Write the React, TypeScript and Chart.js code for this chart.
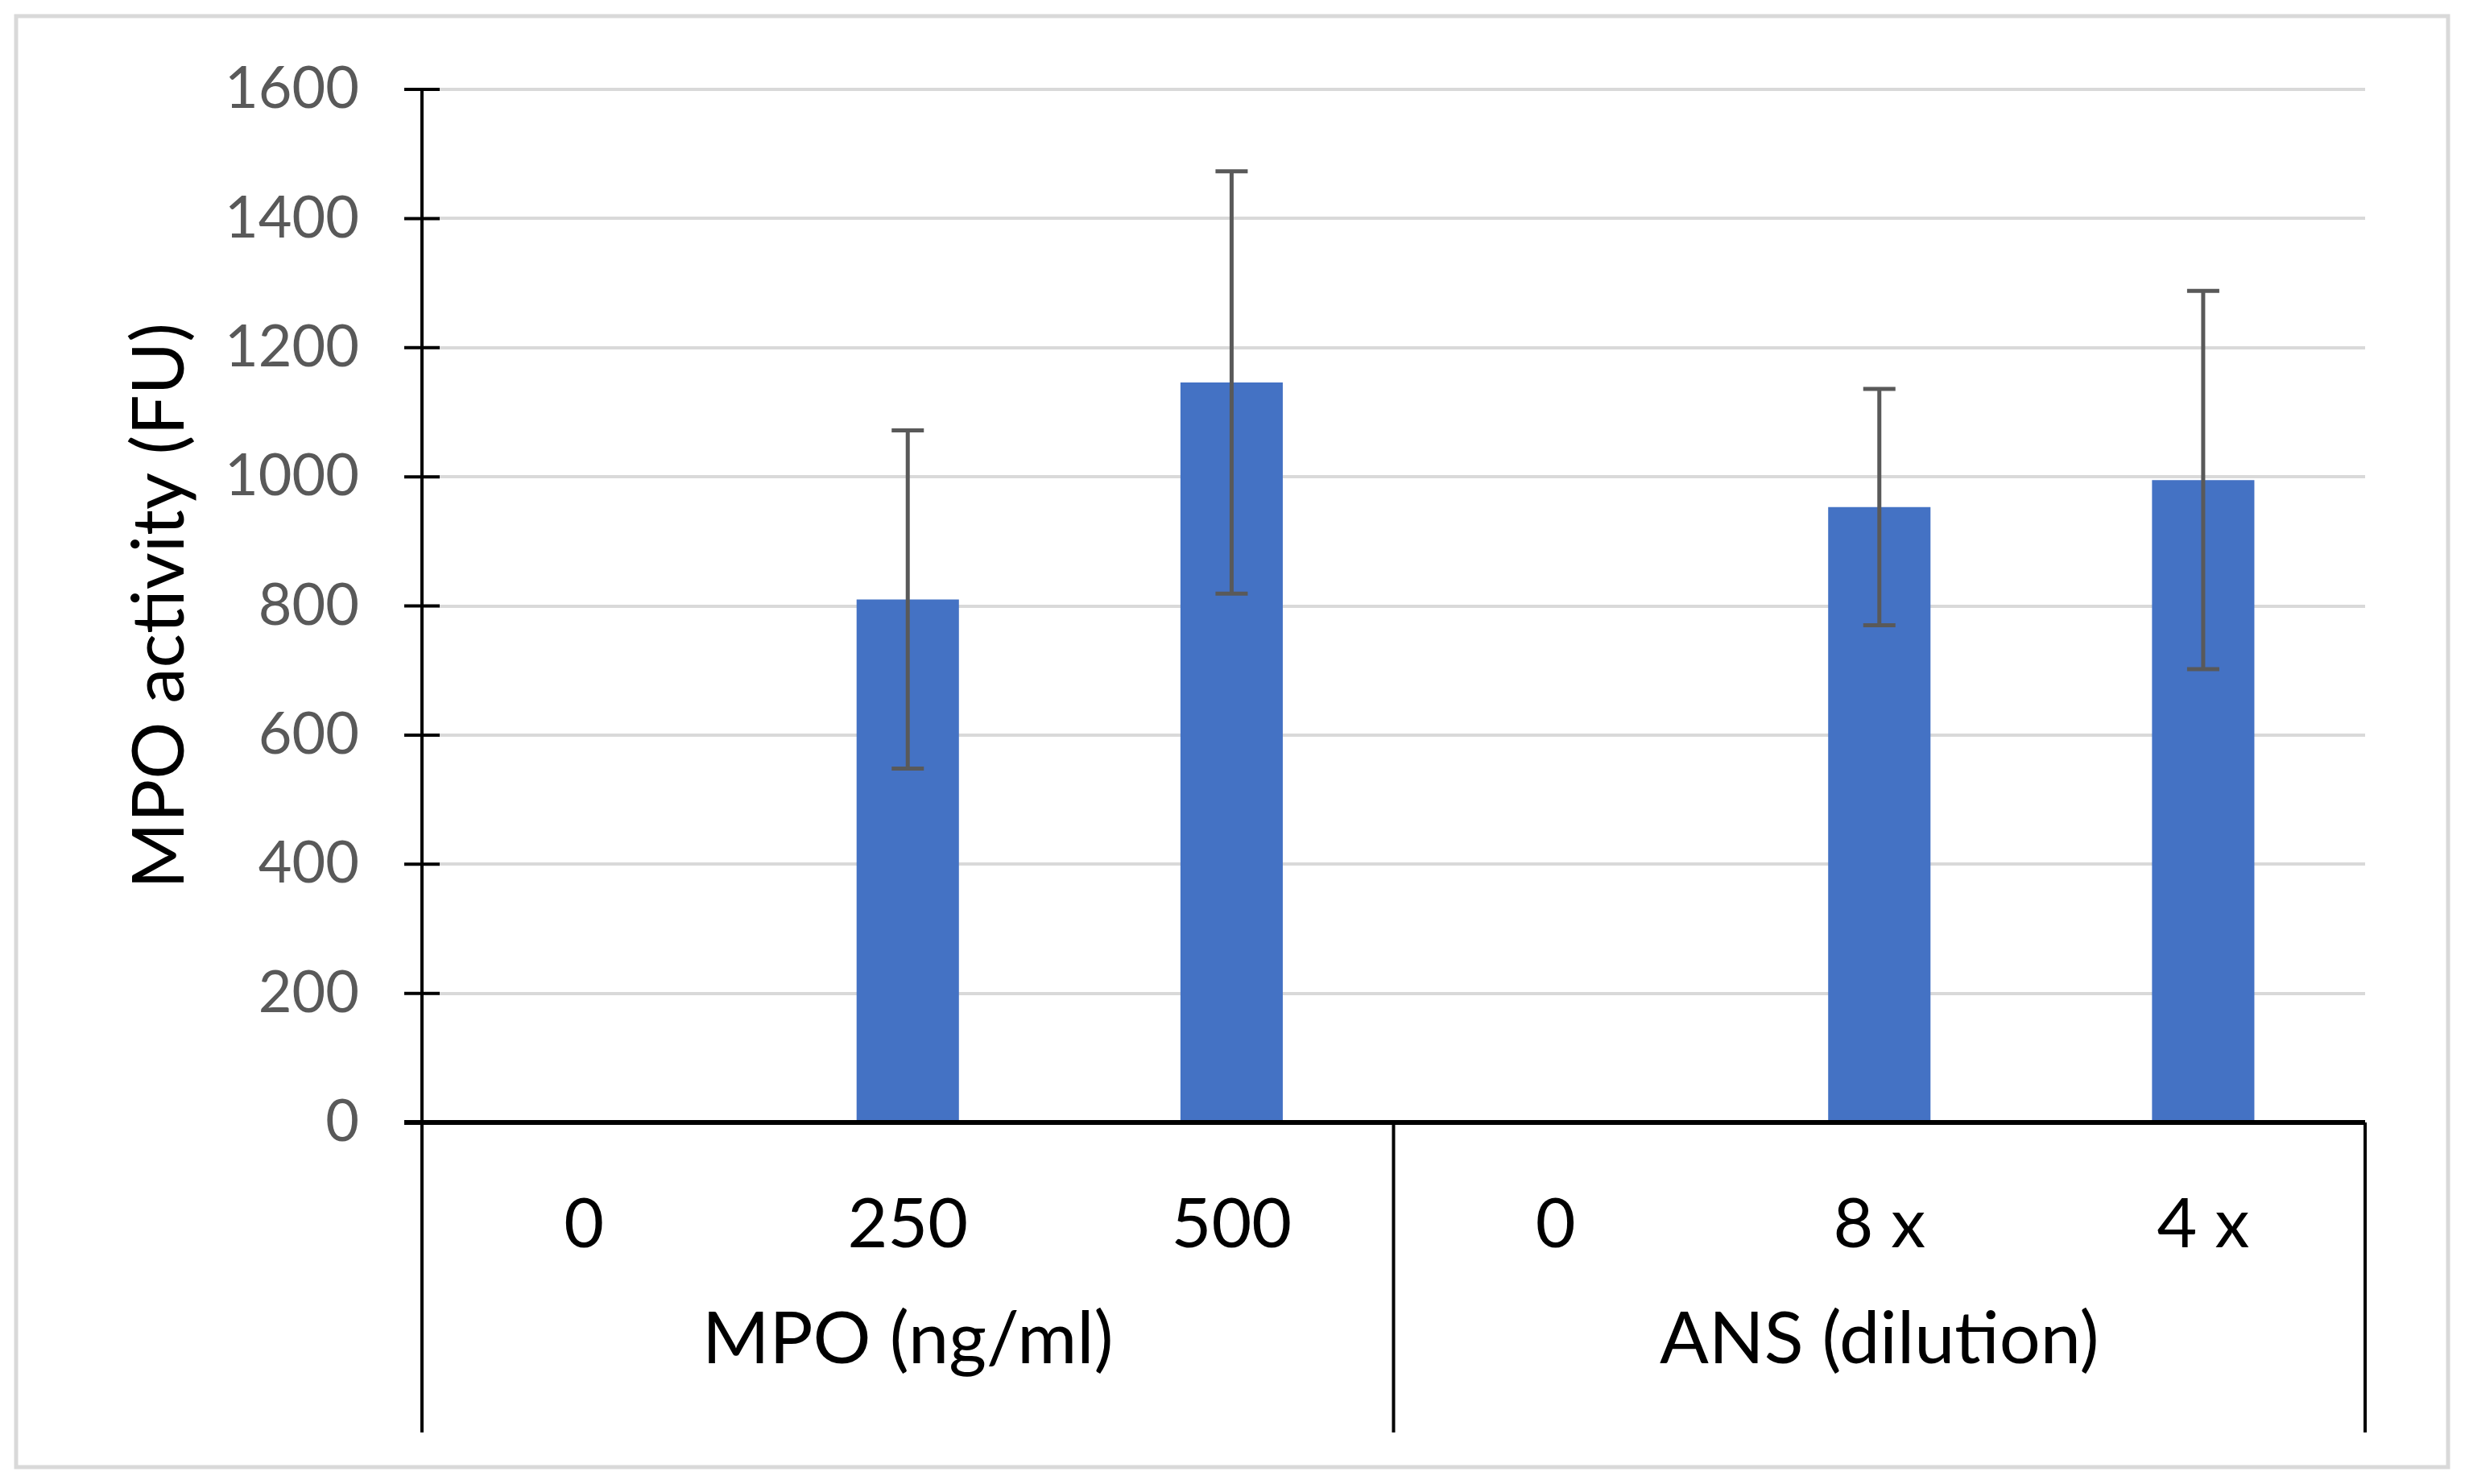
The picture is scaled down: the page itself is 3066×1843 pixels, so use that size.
import React, { useEffect, useRef } from "react";
import { Chart, registerables } from "chart.js";

Chart.register(...registerables);

// ---- data ----
const categories = ["0", "250", "500", "0", "8 x", "4 x"];
const groupLabels = ["MPO (ng/ml)", "ANS (dilution)"];
const groupStart = [0, 3];
const groupEnd = [2, 5];
const activity = [0, 810, 1146, 0, 953, 995];
const errorSD = [0, 262, 327, 0, 183, 293];
const yMin = 0;
const yMax = 1600;
const yStep = 200;
const yTitle = "MPO activity (FU)";

const FONT = "Lato";

const decor = {
  id: "decor",
  beforeDraw(chart: any) {
    const ctx = chart.ctx;
    ctx.save();
    ctx.fillStyle = "#ffffff";
    ctx.fillRect(0, 0, chart.width, chart.height);
    ctx.restore();
  },
  afterDatasetsDraw(chart: any) {
    const ctx = chart.ctx;
    const xs = chart.scales.x;
    const ys = chart.scales.y;
    const area = chart.chartArea;
    ctx.save();
    // error bars
    ctx.strokeStyle = "#595959";
    ctx.lineWidth = 5;
    activity.forEach((v, i) => {
      const e = errorSD[i];
      if (!e) return;
      const x = xs.getPixelForValue(i);
      const yt = ys.getPixelForValue(v + e);
      const yb = ys.getPixelForValue(v - e);
      ctx.beginPath();
      ctx.moveTo(x, yt);
      ctx.lineTo(x, yb);
      ctx.moveTo(x - 20, yt);
      ctx.lineTo(x + 20, yt);
      ctx.moveTo(x - 20, yb);
      ctx.lineTo(x + 20, yb);
      ctx.stroke();
    });
    // y axis line + cross ticks
    ctx.strokeStyle = "#000000";
    ctx.lineWidth = 4;
    ctx.beginPath();
    ctx.moveTo(area.left, area.top);
    ctx.lineTo(area.left, area.bottom);
    ys.ticks.forEach((t: any) => {
      const y = ys.getPixelForValue(t.value);
      ctx.moveTo(area.left - 22, y);
      ctx.lineTo(area.left + 22, y);
    });
    ctx.stroke();
    // x axis line
    ctx.lineWidth = 6;
    ctx.beginPath();
    ctx.moveTo(area.left - 22, area.bottom);
    ctx.lineTo(area.right, area.bottom);
    ctx.stroke();
    // group dividers
    const half = (xs.getPixelForValue(1) - xs.getPixelForValue(0)) / 2;
    const divBottom = area.bottom + 385;
    ctx.lineWidth = 4;
    ctx.beginPath();
    const bounds = [xs.getPixelForValue(groupStart[0]) - half];
    groupEnd.forEach((g) => bounds.push(xs.getPixelForValue(g) + half));
    bounds.forEach((bx) => {
      ctx.moveTo(bx, area.bottom);
      ctx.lineTo(bx, divBottom);
    });
    ctx.stroke();
    // category labels
    ctx.fillStyle = "#000000";
    ctx.textAlign = "center";
    ctx.textBaseline = "middle";
    ctx.font = `86px ${FONT}`;
    categories.forEach((c, i) => {
      ctx.fillText(c, xs.getPixelForValue(i), area.bottom + 127);
    });
    // group labels
    ctx.font = `90px ${FONT}`;
    groupLabels.forEach((g, k) => {
      const cx = (xs.getPixelForValue(groupStart[k]) + xs.getPixelForValue(groupEnd[k])) / 2;
      ctx.fillText(g, cx, area.bottom + 270);
    });
    // outer border
    ctx.strokeStyle = "#d9d9d9";
    ctx.lineWidth = 5;
    ctx.strokeRect(20, 20, 3020, 1802);
    ctx.restore();
  },
};

export default function App() {
  const ref = useRef<HTMLCanvasElement | null>(null);
  useEffect(() => {
    document.body.style.margin = "0";
    const canvas = ref.current!;
    const chart = new Chart(canvas, {
      type: "bar",
      data: {
        labels: categories,
        datasets: [
          {
            data: activity,
            backgroundColor: "#4472C4",
            borderWidth: 0,
            barPercentage: 0.316,
            categoryPercentage: 1,
          },
        ],
      },
      options: {
        animation: false,
        responsive: false,
        devicePixelRatio: 1,
        layout: { padding: { left: 0, right: 129, top: 111, bottom: 0 } },
        plugins: { legend: { display: false }, tooltip: { enabled: false } },
        scales: {
          x: {
            type: "category",
            grid: { display: false },
            border: { display: false },
            ticks: { display: false },
            afterFit: (s: any) => {
              s.height = 449;
            },
          },
          y: {
            min: yMin,
            max: yMax,
            ticks: {
              stepSize: yStep,
              color: "#595959",
              font: { family: FONT, size: 72 },
              padding: 78,
              callback: (v: any) => String(v),
            },
            grid: { color: "#d9d9d9", lineWidth: 4, drawTicks: false },
            border: { display: false },
            title: {
              display: true,
              text: yTitle,
              color: "#000000",
              font: { family: FONT, size: 89 },
              padding: { top: 146, bottom: 0 },
            },
            afterFit: (s: any) => {
              s.width = 524;
              s.paddingTop = 0;
              s.paddingBottom = 0;
            },
          },
        },
      },
      plugins: [decor],
    });
    return () => chart.destroy();
  }, []);
  return <canvas ref={ref} width={3066} height={1843} style={{ display: "block" }} />;
}
